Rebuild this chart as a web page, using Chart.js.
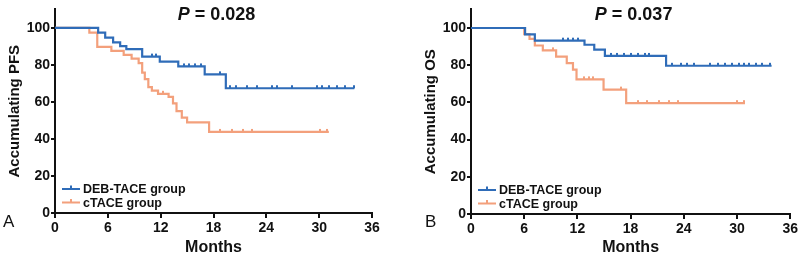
<!DOCTYPE html>
<html>
<head>
<meta charset="utf-8">
<script src="https://cdn.jsdelivr.net/npm/chart.js@4.4.1/dist/chart.umd.min.js"></script>
<style>
  html, body { margin: 0; padding: 0; background: #fff; }
  .panel { position: absolute; top: 0; width: 400px; height: 257px; }
</style>
</head>
<body>
<div class="panel" style="left:0"><canvas id="chartA" width="400" height="257"></canvas></div>
<div class="panel" style="left:400px"><canvas id="chartB" width="400" height="257"></canvas></div>
<script>
const FONT = "'Liberation Sans', Arial, sans-serif";
const BLUE = '#2f6cb8';
const ORANGE = '#f3a07c';

const xTicks = [0, 6, 12, 18, 24, 30, 36];
const yTicks = [0, 20, 40, 60, 80, 100];
const groupNames = ['DEB-TACE group', 'cTACE group'];

// panel A: PFS
const pfsDebTime = [0, 4.9, 5.7, 6.6, 7.4, 8.1, 9.9, 11.9, 14.0, 17.0, 19.4, 34.0];
const pfsDebSurv = [100, 97.4, 94.8, 92.2, 90.2, 88.5, 84.5, 81.8, 79.2, 74.9, 67.4, 67.4];
const pfsDebCensor = [11.0, 11.5, 14.7, 15.2, 15.9, 16.6, 18.7, 19.9, 20.5, 21.8, 22.9, 24.6, 25.2, 26.9, 29.7, 30.3, 31.1, 32.0, 32.9, 33.9];

const pfsCtaceTime = [0, 3.9, 4.8, 6.4, 7.8, 8.7, 9.5, 9.9, 10.2, 10.6, 11.0, 11.7, 12.9, 13.4, 13.8, 14.4, 15.0, 17.5, 31.1];
const pfsCtaceSurv = [100, 97.4, 89.8, 87.6, 85.4, 83.4, 81.0, 75.8, 72.3, 68.0, 66.1, 64.4, 62.7, 59.2, 55.0, 51.5, 49.0, 43.8, 43.8];
const pfsCtaceCensor = [12.3, 18.75, 20.1, 21.4, 22.4, 30.1, 30.9];

// panel B: OS
const osDebTime = [0, 6.1, 7.2, 12.8, 13.9, 15.1, 22.0, 33.9];
const osDebSurv = [100, 96.6, 93.2, 91.0, 88.4, 85.0, 79.7, 79.7];
const osDebCensor = [10.4, 10.9, 11.5, 12.1, 15.8, 16.5, 17.3, 18.0, 18.8, 19.6, 20.1, 22.7, 23.7, 24.4, 25.1, 27.0, 27.8, 28.7, 29.4, 30.2, 30.8, 31.3, 32.1, 32.8, 33.7];

const osCtaceTime = [0, 6.0, 6.6, 7.2, 8.1, 9.6, 10.8, 11.5, 11.9, 14.95, 17.5, 30.9];
const osCtaceSurv = [100, 96.7, 94.1, 90.6, 88.0, 84.6, 81.1, 77.6, 72.4, 66.9, 59.6, 59.6];
const osCtaceCensor = [9.3, 12.8, 13.3, 13.8, 16.9, 18.8, 19.9, 21.2, 22.3, 23.3, 30.0, 30.8];

// level of the curve at time t (for placing censor ticks)
function stepValue(times, surv, t) {
    let v = surv[0];
    for (let i = 0; i < times.length; i++) {
        if (times[i] <= t) v = surv[i];
    }
    return v;
}

function tickMark(color) {
    const c = document.createElement('canvas');
    c.width = 2;
    c.height = 8;
    const g = c.getContext('2d');
    g.fillStyle = color;
    g.fillRect(0, 1, 2, 3);
    return c;
}

function curveSets(times, surv, censor, color, name, row) {
    return [{
        label: name,
        legendRow: row,
        data: times.map((t, i) => ({x: t, y: surv[i]})),
        borderColor: color,
        borderWidth: 2.2,
        stepped: 'before',
        pointRadius: 0,
        fill: false
    }, {
        label: name + ' censored',
        data: censor.map(t => ({x: t, y: stepValue(times, surv, t)})),
        showLine: false,
        pointStyle: tickMark(color),
        pointRadius: 3,
        borderColor: color,
        backgroundColor: color
    }];
}

const panelText = {
    id: 'panelText',
    afterDraw(chart, args, opts) {
        const {ctx, chartArea} = chart;
        ctx.save();
        ctx.fillStyle = '#111';
        ctx.textBaseline = 'middle';
        ctx.textAlign = 'left';

        // P value
        ctx.font = `italic bold 18px ${FONT}`;
        const pw = ctx.measureText('P').width;
        const rest = ' = ' + opts.pValue;
        ctx.font = `bold 18px ${FONT}`;
        const rw = ctx.measureText(rest).width;
        const px = (chartArea.left + chartArea.right) / 2 + 3 - (pw + rw) / 2;
        ctx.font = `italic bold 18px ${FONT}`;
        ctx.fillText('P', px, 15);
        ctx.font = `bold 18px ${FONT}`;
        ctx.fillText(rest, px + pw, 15);

        // legend inside plot, bottom left
        chart.data.datasets.forEach(ds => {
            if (ds.legendRow === undefined) return;
            const y = chartArea.bottom - 24 + ds.legendRow * 13.5;
            const x0 = chartArea.left + 7;
            const x1 = chartArea.left + 25;
            ctx.strokeStyle = ds.borderColor;
            ctx.lineWidth = 2;
            ctx.beginPath();
            ctx.moveTo(x0, y);
            ctx.lineTo(x1, y);
            ctx.moveTo((x0 + x1) / 2, y);
            ctx.lineTo((x0 + x1) / 2, y - 3.5);
            ctx.stroke();
            ctx.fillStyle = '#111';
            ctx.font = `bold 12.5px ${FONT}`;
            ctx.fillText(ds.label, chartArea.left + 28, y + 1);
        });

        // panel letter
        ctx.font = `17px ${FONT}`;
        ctx.fillText(opts.letter, opts.letterX, 222);
        ctx.restore();
    }
};

function makePanel(id, datasets, yTitle, pValue, letter, letterX, padLeft, padRight, xHeight) {
    const tickFont = {family: FONT, size: 14, weight: 'bold'};
    return new Chart(document.getElementById(id), {
        type: 'line',
        data: {datasets: datasets},
        plugins: [panelText],
        options: {
            responsive: false,
            animation: false,
            events: [],
            layout: {padding: {left: padLeft, right: padRight, top: 3, bottom: 0}},
            plugins: {
                legend: {display: false},
                tooltip: {enabled: false},
                panelText: {pValue: pValue, letter: letter, letterX: letterX}
            },
            scales: {
                x: {
                    type: 'linear',
                    min: 0,
                    max: 36,
                    afterBuildTicks: s => { s.ticks = xTicks.map(v => ({value: v})); },
                    afterFit: s => { s.height = xHeight; },
                    ticks: {color: '#111', font: tickFont, padding: 2, maxRotation: 0},
                    grid: {display: true, drawOnChartArea: false, drawTicks: true, tickLength: 5, color: '#111', lineWidth: 2},
                    border: {display: true, color: '#111', width: 2},
                    title: {display: true, text: 'Months', color: '#111',
                        font: {family: FONT, size: 16, weight: 'bold'}, padding: {top: 0, bottom: 0}}
                },
                y: {
                    type: 'linear',
                    min: 0,
                    max: 110,
                    afterBuildTicks: s => { s.ticks = yTicks.map(v => ({value: v})); },
                    afterFit: s => { s.width = 55; },
                    ticks: {color: '#111', font: tickFont, padding: 1},
                    grid: {display: true, drawOnChartArea: false, drawTicks: true, tickLength: 4, color: '#111', lineWidth: 2},
                    border: {display: true, color: '#111', width: 2},
                    title: {display: true, text: yTitle, color: '#111',
                        font: {family: FONT, size: 15, weight: 'bold'}, padding: {top: 5.5, bottom: 0}}
                }
            }
        }
    });
}

document.addEventListener('DOMContentLoaded', () => {
    const setsA = [
        ...curveSets(pfsDebTime, pfsDebSurv, pfsDebCensor, BLUE, groupNames[0], 0),
        ...curveSets(pfsCtaceTime, pfsCtaceSurv, pfsCtaceCensor, ORANGE, groupNames[1], 1)
    ];
    const setsB = [
        ...curveSets(osDebTime, osDebSurv, osDebCensor, BLUE, groupNames[0], 0),
        ...curveSets(osCtaceTime, osCtaceSurv, osCtaceCensor, ORANGE, groupNames[1], 1)
    ];
    makePanel('chartA', setsA, 'Accumulating PFS', '0.028', 'A', 3, 0, 28, 44);
    makePanel('chartB', setsB, 'Accumulating OS', '0.037', 'B', 25, 16, 8, 43);
});
</script>
</body>
</html>
